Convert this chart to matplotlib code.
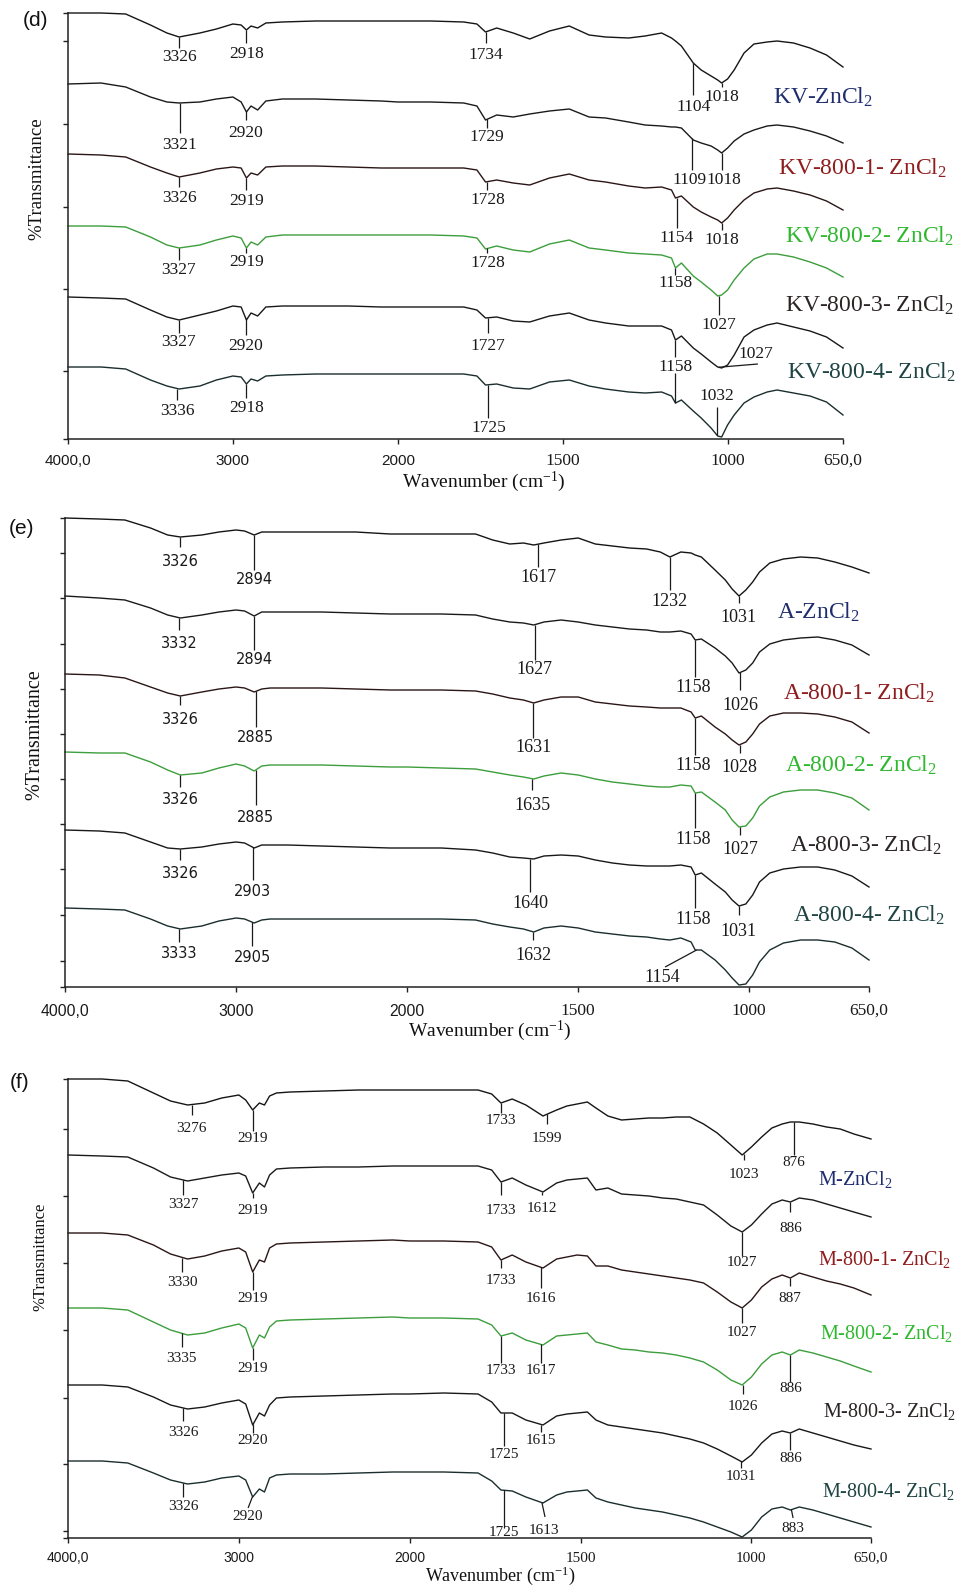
import numpy as np
import matplotlib
matplotlib.use("Agg")
import matplotlib.pyplot as plt

plt.rcParams['font.family'] = ['Liberation Serif', 'DejaVu Serif']
plt.rcParams['mathtext.fontset'] = 'custom'
plt.rcParams['mathtext.rm'] = 'Liberation Serif'
plt.rcParams['mathtext.it'] = 'Liberation Serif:italic'

FW, FH = 957, 1585

# ---------------- DATA ----------------
# x tick values / labels (shared)
xtick_vals = [4000, 3000, 2000, 1500, 1000, 650]
xtick_text = ["4000,0", "3000", "2000", "1500", "1000", "650,0"]

# ---- panel (d) : KV samples ----
wn_d = [4000, 3800, 3650, 3500, 3400, 3326, 3200, 3100, 3000, 2950,
        2918, 2890, 2850, 2800, 2700, 2500, 2300, 2100, 2000, 1900,
        1800, 1760, 1734, 1700, 1650, 1600, 1540, 1480, 1420, 1370,
        1300, 1250, 1200, 1170, 1158, 1140, 1104, 1080, 1050, 1030,
        1018, 1000, 980, 950, 920, 880, 850, 800, 750, 700, 650]
KV_raw = [426, 426, 425, 414, 406, 402, 406, 410, 415, 414,
          409, 413, 411, 416, 417, 418, 418, 418, 418, 418,
          417, 415, 407, 411, 406, 400, 408, 413, 404, 402,
          401, 403, 406, 401, 398, 393, 376, 369, 363, 359,
          356, 360, 369, 386, 395, 397, 398, 396, 391, 384, 372]
KV_ZnCl2 = [355, 356, 352, 342, 337, 336, 337, 340, 342, 337,
            327, 333, 329, 338, 340, 340, 339, 338, 337, 337,
            336, 333, 319, 324, 322, 325, 328, 330, 322, 321,
            317, 314, 313, 312, 312, 311, 299, 296, 293, 289,
            286, 291, 298, 305, 309, 313, 314, 312, 308, 303, 296]
KV_800_1 = [285, 284, 282, 272, 266, 262, 266, 270, 272, 271,
            261, 266, 264, 272, 273, 273, 272, 271, 271, 271,
            271, 269, 257, 259, 256, 254, 261, 265, 259, 257,
            253, 251, 252, 249, 241, 243, 232, 227, 222, 219,
            216, 221, 229, 239, 246, 250, 251, 248, 244, 238, 229]
KV_800_2 = [213, 213, 212, 202, 194, 191, 194, 199, 203, 201,
            191, 197, 194, 202, 204, 204, 204, 204, 204, 204,
            203, 201, 190, 193, 189, 187, 195, 199, 191, 189,
            186, 185, 184, 181, 171, 176, 163, 157, 149, 143,
            144, 149, 159, 171, 180, 185, 185, 182, 177, 171, 162]
KV_800_3 = [142, 141, 140, 129, 122, 119, 124, 128, 133, 132,
            119, 126, 123, 132, 133, 133, 133, 132, 132, 132,
            132, 129, 121, 122, 118, 117, 123, 126, 119, 116,
            113, 113, 113, 109, 99, 103, 91, 85, 77, 72,
            71, 74, 84, 102, 109, 114, 116, 112, 108, 102, 91]
KV_800_4 = [72, 72, 70, 59, 53, 50, 53, 59, 63, 62,
            55, 60, 58, 63, 64, 65, 65, 65, 65, 65,
            65, 63, 54, 55, 51, 50, 57, 59, 53, 50,
            47, 46, 47, 43, 36, 39, 28, 21, 11, 3,
            2, 14, 24, 36, 42, 47, 49, 46, 43, 37, 24]
names_d = ["KV-ZnCl", "KV-800-1- ZnCl", "KV-800-2- ZnCl",
           "KV-800-3- ZnCl", "KV-800-4- ZnCl"]
peaks_d = [(0, 3326), (0, 2918), (0, 1734), (0, 1104), (0, 1018),
           (1, 3321), (1, 2920), (1, 1729), (1, 1109), (1, 1018),
           (2, 3326), (2, 2919), (2, 1728), (2, 1154), (2, 1018),
           (3, 3327), (3, 2919), (3, 1728), (3, 1158), (3, 1027),
           (4, 3327), (4, 2920), (4, 1727), (4, 1158), (4, 1027),
           (5, 3336), (5, 2918), (5, 1725), (5, 1158), (5, 1032)]

# ---- panel (e) : A samples ----
wn_e = [4000, 3800, 3650, 3500, 3400, 3326, 3200, 3100, 3000, 2950,
        2894, 2850, 2800, 2700, 2500, 2300, 2100, 2000, 1900, 1800,
        1750, 1700, 1660, 1630, 1600, 1550, 1500, 1450, 1400, 1350,
        1300, 1260, 1232, 1200, 1170, 1158, 1140, 1100, 1070, 1050,
        1030, 1010, 990, 970, 940, 900, 850, 800, 750, 700, 650]
A_raw = [469, 468, 467, 459, 452, 450, 452, 455, 457, 456,
         452, 455, 455, 455, 455, 455, 453, 453, 453, 453,
         447, 443, 444, 442, 444, 447, 449, 443, 441, 439,
         438, 435, 430, 435, 434, 432, 430, 417, 407, 398,
         391, 397, 405, 415, 424, 428, 430, 429, 425, 420, 414]
A_ZnCl2 = [391, 389, 387, 379, 372, 369, 372, 375, 377, 376,
           371, 375, 375, 375, 375, 374, 373, 373, 373, 372,
           368, 365, 364, 362, 365, 367, 365, 362, 360, 358,
           357, 355, 355, 356, 353, 347, 348, 339, 331, 324,
           314, 317, 324, 335, 343, 347, 349, 350, 347, 342, 332]
A_800_1 = [313, 312, 309, 300, 294, 291, 295, 298, 300, 299,
           295, 298, 299, 299, 299, 298, 297, 297, 297, 296,
           293, 289, 287, 284, 287, 290, 290, 285, 283, 281,
           280, 279, 279, 279, 275, 269, 271, 260, 253, 247,
           242, 245, 253, 263, 271, 274, 274, 273, 270, 265, 254]
A_800_2 = [235, 234, 234, 225, 217, 212, 214, 219, 223, 221,
           216, 221, 222, 222, 222, 221, 220, 220, 219, 218,
           215, 212, 210, 208, 211, 214, 212, 208, 205, 203,
           201, 200, 200, 202, 201, 194, 195, 185, 177, 167,
           160, 161, 169, 181, 190, 195, 197, 197, 194, 189, 177]
A_800_3 = [157, 156, 154, 145, 139, 138, 140, 143, 145, 144,
           139, 142, 142, 142, 141, 140, 139, 139, 139, 137,
           134, 130, 129, 128, 131, 132, 131, 127, 124, 122,
           121, 121, 121, 122, 120, 112, 114, 103, 95, 87,
           81, 83, 92, 105, 114, 118, 120, 120, 117, 111, 100]
A_800_4 = [79, 78, 77, 68, 61, 58, 61, 66, 69, 68,
           64, 67, 68, 68, 68, 68, 68, 68, 68, 67,
           63, 60, 58, 55, 59, 61, 59, 55, 53, 51,
           50, 48, 47, 49, 45, 37, 37, 27, 17, 9,
           2, 3, 12, 25, 37, 44, 47, 47, 45, 39, 27]
names_e = ["A-ZnCl", "A-800-1- ZnCl", "A-800-2- ZnCl",
           "A-800-3- ZnCl", "A-800-4- ZnCl"]
peaks_e = [(0, 3326), (0, 2894), (0, 1617), (0, 1232), (0, 1031),
           (1, 3332), (1, 2894), (1, 1627), (1, 1158), (1, 1026),
           (2, 3326), (2, 2885), (2, 1631), (2, 1158), (2, 1028),
           (3, 3326), (3, 2885), (3, 1635), (3, 1158), (3, 1027),
           (4, 3326), (4, 2903), (4, 1640), (4, 1158), (4, 1031),
           (5, 3333), (5, 2905), (5, 1632), (5, 1154)]

# ---- panel (f) : M samples ----
wn_f = [4000, 3800, 3650, 3500, 3400, 3300, 3200, 3100, 3000, 2960,
        2919, 2880, 2850, 2820, 2780, 2700, 2500, 2300, 2100, 2000,
        1900, 1800, 1760, 1733, 1700, 1660, 1610, 1570, 1540, 1510,
        1480, 1455, 1420, 1380, 1340, 1300, 1260, 1220, 1180, 1140,
        1100, 1060, 1027, 1000, 970, 940, 910, 886, 860, 820,
        780, 740, 700, 650]
M_raw = [459, 459, 457, 445, 437, 433, 435, 440, 443, 438,
         428, 435, 433, 442, 445, 446, 447, 448, 448, 448,
         448, 448, 444, 435, 439, 433, 422, 428, 432, 434,
         436, 430, 422, 418, 419, 420, 420, 421, 421, 414,
         405, 393, 383, 391, 401, 410, 414, 416, 416, 414,
         411, 409, 404, 399]
M_ZnCl2 = [383, 382, 381, 370, 361, 357, 360, 363, 365, 362,
           345, 355, 351, 363, 369, 370, 371, 371, 372, 372,
           372, 372, 368, 356, 360, 353, 346, 355, 358, 359,
           360, 348, 350, 344, 343, 342, 340, 339, 336, 333,
           323, 312, 306, 313, 324, 334, 338, 336, 340, 338,
           334, 330, 326, 321]
M_800_1 = [305, 305, 303, 293, 284, 279, 282, 287, 290, 286,
           266, 278, 276, 290, 294, 295, 296, 297, 298, 297,
           297, 296, 291, 278, 283, 276, 270, 279, 281, 283,
           282, 272, 272, 268, 266, 264, 262, 260, 258, 255,
           246, 236, 230, 238, 251, 259, 263, 260, 265, 261,
           257, 254, 250, 243]
M_800_2 = [230, 230, 228, 216, 208, 203, 205, 210, 214, 210,
           190, 203, 200, 211, 217, 218, 219, 220, 221, 220,
           220, 219, 213, 202, 205, 198, 193, 202, 203, 204,
           205, 196, 193, 189, 188, 186, 185, 183, 180, 176,
           168, 158, 153, 161, 174, 183, 186, 183, 188, 185,
           181, 177, 172, 166]
M_800_3 = [153, 153, 151, 141, 133, 129, 131, 135, 138, 134,
           113, 125, 122, 133, 140, 141, 142, 143, 144, 144,
           145, 144, 136, 125, 125, 118, 113, 122, 124, 125,
           126, 118, 113, 111, 109, 107, 105, 102, 99, 95,
           89, 82, 76, 83, 95, 104, 107, 105, 109, 105,
           101, 97, 93, 89]
M_800_4 = [77, 77, 75, 65, 58, 54, 56, 60, 62, 58,
           41, 49, 46, 60, 63, 64, 64, 65, 66, 66,
           66, 65, 57, 48, 47, 41, 35, 43, 46, 47,
           48, 40, 36, 33, 30, 28, 26, 23, 20, 16,
           11, 6, 1, 8, 21, 29, 31, 28, 31, 28,
           24, 20, 16, 11]
names_f = ["M-ZnCl", "M-800-1- ZnCl", "M-800-2- ZnCl",
           "M-800-3- ZnCl", "M-800-4- ZnCl"]
peaks_f = [(0, 3276), (0, 2919), (0, 1733), (0, 1599), (0, 1023), (0, 876),
           (1, 3327), (1, 2919), (1, 1733), (1, 1612), (1, 1027), (1, 886),
           (2, 3330), (2, 2919), (2, 1733), (2, 1616), (2, 1027), (2, 887),
           (3, 3335), (3, 2919), (3, 1733), (3, 1617), (3, 1026), (3, 886),
           (4, 3326), (4, 2920), (4, 1725), (4, 1615), (4, 1031), (4, 886),
           (5, 3326), (5, 2920), (5, 1725), (5, 1613), (5, 883)]

# ---------------- LAYOUT (positions / styles) ----------------
# annotation layout: (line end height, label height[, line-end wn, label wn])
layout_d = [(391, 382), (396, 385), (396, 384), (344, 332), (352, 342),
            (306, 294), (319, 306), (311, 302), (269, 259, None, 1114), (269, 259, None, 1011),
            (252, 241), (249, 238), (249, 239), (211, 201), (209, 199),
            (179, 169), (186, 177), (186, 176), (164, 156), (124, 114),
            (106, 97), (104, 93), (106, 93), (82, 72), (75, 85, 908, 915),
            (39, 28), (41, 31), (21, 11), (66, None), (32, 43)]
layout_e = [(440, 426), (417, 408), (420, 409), (397, 385), (384, 369),
            (357, 344), (337, 328), (327, 317), (310, 300, None, 1164), (297, 282),
            (282, 268), (260, 250), (249, 240), (232, 222, None, 1164), (234, 220),
            (200, 188), (182, 170), (197, 181), (159, 148, None, 1164), (152, 137),
            (127, 114), (107, 95), (95, 84), (79, 68, None, 1164), (72, 55),
            (45, 34), (41, 30), (47, 31), (20, 9, 1246, 1255)]
layout_f = [(423, 410), (407, 399), (425, 417), (414, 399), (378, 364), (383, 375),
            (343, 334), (340, 328), (343, 328), (343, 329), (282, 275), (326, 310),
            (266, 255), (248, 240), (270, 258), (250, 240), (215, 205), (252, 240),
            (191, 180), (178, 169), (175, 168), (175, 168), (144, 132), (156, 150),
            (117, 105), (105, 97), (92, 83), (106, 98), (70, 61), (88, 80),
            (41, 31), (30, 21, 2946, 2946), (10, 6), (21, 8, 1604, 1606), (20, 9, 878, 878)]

GREEN_LINE = '#3c9e3c'
curve_colors = ['#151515', '#1a1a1a', '#2b1616', GREEN_LINE, '#181818', '#1b2d2d']
name_colors = ['#1f2d6e', '#8f1d1d', '#2fb82f', '#2b2424', '#1f4444']

panels = [
    dict(box=(68, 13, 843, 439), wn=wn_d,
         curves=[KV_raw, KV_ZnCl2, KV_800_1, KV_800_2, KV_800_3, KV_800_4],
         peaks=peaks_d, layout=layout_d, names=names_d,
         name_pos=[(773, 97), (778, 168), (785, 236), (785, 305), (787, 372)],
         name_size=17, peak_size=12.5, peak_left_sans=False,
         yticks=[0, 68, 150, 232, 315, 398, 426],
         tick_dy=22, tick_sans=11, tick_serif=12.5,
         letter=("(d)", 35, 20), ylab=(37, 179, 13.5),
         xlab=(484, 482, 14)),
    dict(box=(65, 518, 869, 987), wn=wn_e,
         curves=[A_raw, A_ZnCl2, A_800_1, A_800_2, A_800_3, A_800_4],
         peaks=peaks_e, layout=layout_e, names=names_e,
         name_pos=[(777, 612), (783, 693), (785, 765), (790, 845), (793, 915)],
         name_size=17, peak_size=13, peak_left_sans=True,
         yticks=[0, 26, 72, 118, 163, 208, 253, 298, 343, 389, 434, 469],
         tick_dy=24, tick_sans=11.3, tick_serif=12.5,
         letter=("(e)", 22, 528), ylab=(35, 735, 14.5),
         xlab=(490, 1031, 14)),
    dict(box=(68, 1079, 871, 1538), wn=wn_f,
         curves=[M_raw, M_ZnCl2, M_800_1, M_800_2, M_800_3, M_800_4],
         peaks=peaks_f, layout=layout_f, names=names_f,
         name_pos=[(818, 1180), (818, 1260), (820, 1333), (823, 1412), (822, 1492)],
         name_size=14.5, peak_size=11, peak_left_sans=False,
         yticks=[0, 7, 74, 140, 208, 275, 342, 409, 459],
         tick_dy=20, tick_sans=10, tick_serif=11,
         letter=("(f)", 20, 1083), ylab=(40, 1257, 12),
         xlab=(500, 1576, 13)),
]


def fwd(w):
    w = np.asarray(w, dtype=float)
    return np.where(w >= 2000, w, 2.0 * w - 2000.0)


def inv(u):
    u = np.asarray(u, dtype=float)
    return np.where(u >= 2000, u, (u + 2000.0) / 2.0)


fig = plt.figure(figsize=(FW / 100, FH / 100), dpi=100)
fig.patch.set_facecolor('white')


def fx(px):
    return px / FW


def fy(py):
    return 1 - py / FH


AX_COLOR = '#222222'

for P in panels:
    l, t, r, b = P['box']
    ax = fig.add_axes([fx(l), fy(b), (r - l) / FW, (b - t) / FH])
    ax.set_xscale('function', functions=(fwd, inv))
    ax.set_xlim(4000, 650)
    ax.set_ylim(0, b - t)
    ax.patch.set_alpha(0)
    for s in ['top', 'right']:
        ax.spines[s].set_visible(False)
    for s in ['left', 'bottom']:
        ax.spines[s].set_linewidth(1.1)
        ax.spines[s].set_color(AX_COLOR)
    ax.set_xticks(xtick_vals)
    ax.set_xticklabels([])
    ax.set_yticks(P['yticks'])
    ax.set_yticklabels([])
    ax.xaxis.set_minor_locator(matplotlib.ticker.NullLocator())
    ax.yaxis.set_minor_locator(matplotlib.ticker.NullLocator())
    ax.tick_params(direction='out', length=3.6, width=1.0, color=AX_COLOR)

    wn = np.array(P['wn'], dtype=float)
    for ci, vals in enumerate(P['curves']):
        ax.plot(wn, vals, color=curve_colors[ci], lw=1.0, clip_on=False)

    # peak annotations
    for (ci, pk), lay in zip(P['peaks'], P['layout']):
        y_end, y_lab = lay[0], lay[1]
        x_end = lay[2] if len(lay) > 2 and lay[2] is not None else pk
        x_lab = lay[3] if len(lay) > 3 and lay[3] is not None else pk
        y0 = np.interp(pk, wn[::-1], np.array(P['curves'][ci], dtype=float)[::-1])
        ax.plot([pk, x_end], [y0, y_end], color='#1a1a1a', lw=0.9,
                clip_on=False, solid_capstyle='butt')
        if y_lab is not None:
            if P['peak_left_sans'] and pk > 2000:
                fam, sz = 'DejaVu Sans', 10.5
            else:
                fam, sz = 'Liberation Serif', P['peak_size']
            ax.text(x_lab, y_lab, str(pk), ha='center', va='center',
                    fontfamily=fam, fontsize=sz, color='#1a1a1a', clip_on=False)

    # tick labels (first three sans, last three serif as in the original)
    for i, (tv, tl) in enumerate(zip(xtick_vals, xtick_text)):
        if i < 3:
            fam, sz = 'Liberation Sans', P['tick_sans']
        else:
            fam, sz = 'Liberation Serif', P['tick_serif']
        ax.text(tv, -P['tick_dy'], tl, ha='center', va='center',
                fontfamily=fam, fontsize=sz, color='#1a1a1a', clip_on=False)

    # sample names
    for k, (nm, (px, py)) in enumerate(zip(P['names'], P['name_pos'])):
        fig.text(fx(px), fy(py), nm + r"$_{\mathregular{2}}$", ha='left', va='center',
                 fontsize=P['name_size'], color=name_colors[k],
                 fontfamily='Liberation Serif')

    # panel letter
    lt, lx, ly = P['letter']
    fig.text(fx(lx), fy(ly), lt, ha='center', va='center',
             fontfamily='Liberation Sans', fontsize=15, color='#111111')
    # y label
    yx, yy, ys = P['ylab']
    fig.text(fx(yx), fy(yy), '%Transmittance', rotation=90, ha='center',
             va='center', fontfamily='Liberation Serif', fontsize=ys, color='#111111')
    # x label
    xx, xy, xs = P['xlab']
    fig.text(fx(xx), fy(xy), r'Wavenumber (cm$^{\mathregular{-1}}$)', ha='center',
             va='center', fontfamily='Liberation Serif', fontsize=xs, color='#111111')

fig.savefig('out.png', dpi=100, facecolor='white')
